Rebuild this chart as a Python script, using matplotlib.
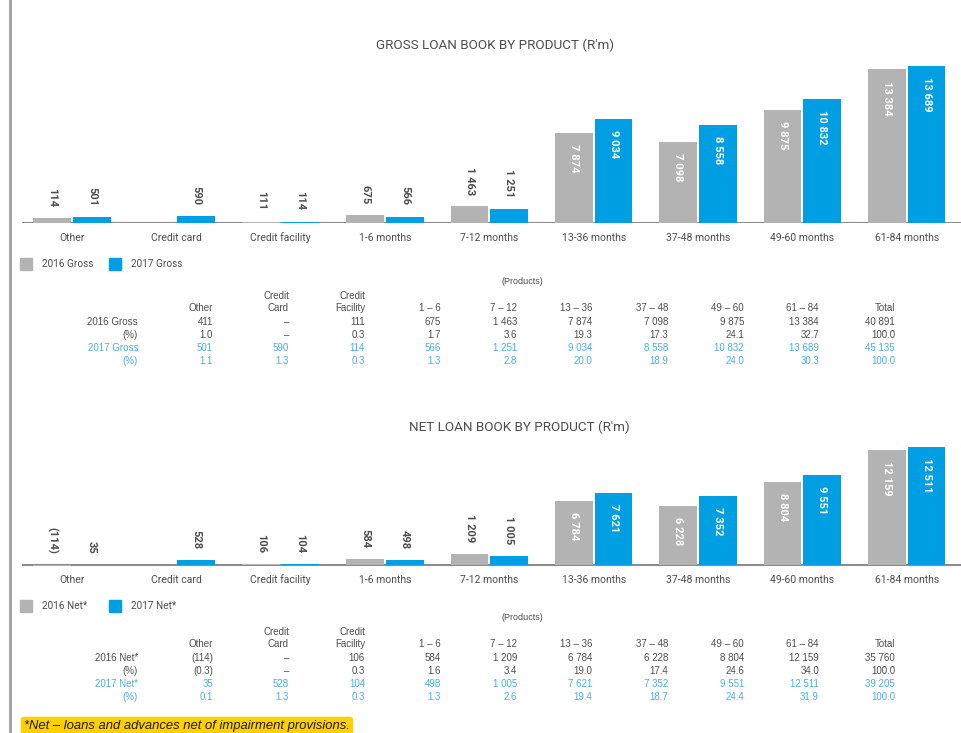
import matplotlib.pyplot as plt
from matplotlib.lines import Line2D

# ---- data ----
products = ['Other', 'Credit card', 'Credit facility', '1-6 months', '7-12 months',
            '13-36 months', '37-48 months', '49-60 months', '61-84 months']

gross_2016 = [411, 0, 111, 675, 1463, 7874, 7098, 9875, 13384]
gross_2017 = [501, 590, 114, 566, 1251, 9034, 8558, 10832, 13689]
gross_2016_lbl = ['114', '', '111', '675', '1 463', '7 874', '7 098', '9 875', '13 384']
gross_2017_lbl = ['501', '590', '114', '566', '1 251', '9 034', '8 558', '10 832', '13 689']

net_2016 = [-114, 0, 106, 584, 1209, 6784, 6228, 8804, 12159]
net_2017 = [35, 528, 104, 498, 1005, 7621, 7352, 9551, 12511]
net_2016_lbl = ['(114)', '', '106', '584', '1 209', '6 784', '6 228', '8 804', '12 159']
net_2017_lbl = ['35', '528', '104', '498', '1 005', '7 621', '7 352', '9 551', '12 511']

tbl_headers = [('', 'Other'), ('Credit', 'Card'), ('Credit', 'Facility'), ('', '1 – 6'),
               ('', '7 – 12'), ('', '13 – 36'), ('', '37 – 48'), ('', '49 – 60'),
               ('', '61 – 84'), ('', 'Total')]

gross_rows = [
    ('2016 Gross', ['411', '–', '111', '675', '1 463', '7 874', '7 098', '9 875', '13 384', '40 891']),
    ('(%)', ['1.0', '–', '0.3', '1.7', '3.6', '19.3', '17.3', '24.1', '32.7', '100.0']),
    ('2017 Gross', ['501', '590', '114', '566', '1 251', '9 034', '8 558', '10 832', '13 689', '45 135']),
    ('(%)', ['1.1', '1.3', '0.3', '1.3', '2.8', '20.0', '18.9', '24.0', '30.3', '100.0']),
]
net_rows = [
    ('2016 Net*', ['(114)', '–', '106', '584', '1 209', '6 784', '6 228', '8 804', '12 159', '35 760']),
    ('(%)', ['(0.3)', '–', '0.3', '1.6', '3.4', '19.0', '17.4', '24.6', '34.0', '100.0']),
    ('2017 Net*', ['35', '528', '104', '498', '1 005', '7 621', '7 352', '9 551', '12 511', '39 205']),
    ('(%)', ['0.1', '1.3', '0.3', '1.3', '2.6', '19.4', '18.7', '24.4', '31.9', '100.0']),
]

GREY = '#b3b3b3'
BLUE = '#009fe3'
TXT = '#4d4d4d'
TBL_BLUE = '#45aee6'

W, H = 961, 733
fig = plt.figure(figsize=(W / 100, H / 100), dpi=100)
fig.patch.set_facecolor('white')


def fx(x):
    return x / W


def fy(y):
    return 1 - y / H


# left border line
fig.add_artist(Line2D([fx(10), fx(10)], [0, 1], color='#a0a0a0', lw=2))


def bar_chart(top, base, bottom, scale, v16, v17, l16, l17, title, title_x, title_y):
    ax = fig.add_axes([fx(22), fy(bottom), 939 / W, (bottom - top) / H])
    x = range(len(products))
    ax.axhline(0, color='#8c8c8c', lw=1.5, zorder=1)
    ax.bar([i - 0.19 for i in x], v16, width=0.36, color=GREY, zorder=2)
    ax.bar([i + 0.19 for i in x], v17, width=0.36, color=BLUE, zorder=2)
    ax.set_xlim(-0.48, 8.52)
    ax.set_ylim(-(bottom - base) / scale, (base - top) / scale)
    ax.set_xticks([])
    ax.set_yticks([])
    for s in ax.spines.values():
        s.set_visible(False)
    for i in x:
        for off, v, lab in ((-0.19, v16[i], l16[i]), (0.19, v17[i], l17[i])):
            if not lab:
                continue
            if v > 5000:
                ax.annotate(lab, xy=(i + off, v), xytext=(0, -8), textcoords='offset points',
                            rotation=-90, ha='center', va='top', fontsize=8,
                            fontweight='bold', color='white', family='Roboto')
            else:
                ax.annotate(lab, xy=(i + off, max(v, 0)), xytext=(0, 8), textcoords='offset points',
                            rotation=-90, ha='center', va='bottom', fontsize=8,
                            fontweight='bold', color=TXT, family='Roboto')
        ax.annotate(products[i], xy=(i, 0), xytext=(0, -10.5), textcoords='offset points',
                    ha='center', va='center', fontsize=7.5, color=TXT, family='Roboto')
    fig.text(fx(title_x), fy(title_y), title, ha='center', va='center', fontsize=9.7,
             color=TXT, family='Roboto')
    return ax


def legend(y, names):
    for (xs, name, c) in zip((26, 115), names, (GREY, BLUE)):
        fig.add_artist(Line2D([fx(xs)], [fy(y)], marker='s', markersize=8, color=c, lw=0))
        fig.text(fx(xs + 16), fy(y), name, ha='left', va='center', fontsize=7.2,
                 color=TXT, family='Roboto')


col_x = [213, 289, 365, 441, 517, 592, 668, 744, 819, 895]


def table(y0, rows):
    fig.text(fx(522), fy(y0), '(Products)', ha='center', va='center', fontsize=6.5,
             color=TXT, family='Liberation Sans')
    for cx, (h1, h2) in zip(col_x, tbl_headers):
        if h1:
            fig.text(fx(cx), fy(y0 + 15), h1, ha='right', va='center', fontsize=7,
                     color=TXT, family='Liberation Sans')
        fig.text(fx(cx), fy(y0 + 27), h2, ha='right', va='center', fontsize=7,
                 color=TXT, family='Liberation Sans')
    row_y = [y0 + 41, y0 + 54, y0 + 67, y0 + 80]
    for k, (name, vals) in enumerate(rows):
        c = TXT if k < 2 else TBL_BLUE
        fig.text(fx(138), fy(row_y[k]), name, ha='right', va='center', fontsize=7,
                 color=c, family='Liberation Sans')
        for cx, v in zip(col_x, vals):
            fig.text(fx(cx), fy(row_y[k]), v, ha='right', va='center', fontsize=7,
                     color=c, family='Liberation Sans')


# gross chart
bar_chart(60, 223, 223, 0.01147, gross_2016, gross_2017, gross_2016_lbl, gross_2017_lbl,
          "GROSS LOAN BOOK BY PRODUCT (R'm)", 495, 45)
legend(264, ['2016 Gross', '2017 Gross'])
table(281, gross_rows)

# net chart
bar_chart(440, 565, 575, 0.00943, net_2016, net_2017, net_2016_lbl, net_2017_lbl,
          "NET LOAN BOOK BY PRODUCT (R'm)", 519, 427)
legend(606, ['2016 Net*', '2017 Net*'])
table(617, net_rows)

# footnote
fig.text(fx(24), fy(726), '*Net – loans and advances net of impairment provisions.',
         ha='left', va='center', fontsize=9.4, style='italic', color='#1a1a1a',
         family='Liberation Sans',
         bbox=dict(facecolor='#ffd000', edgecolor='none', boxstyle='round,pad=0.25'))

fig.savefig('out.png', dpi=100)
